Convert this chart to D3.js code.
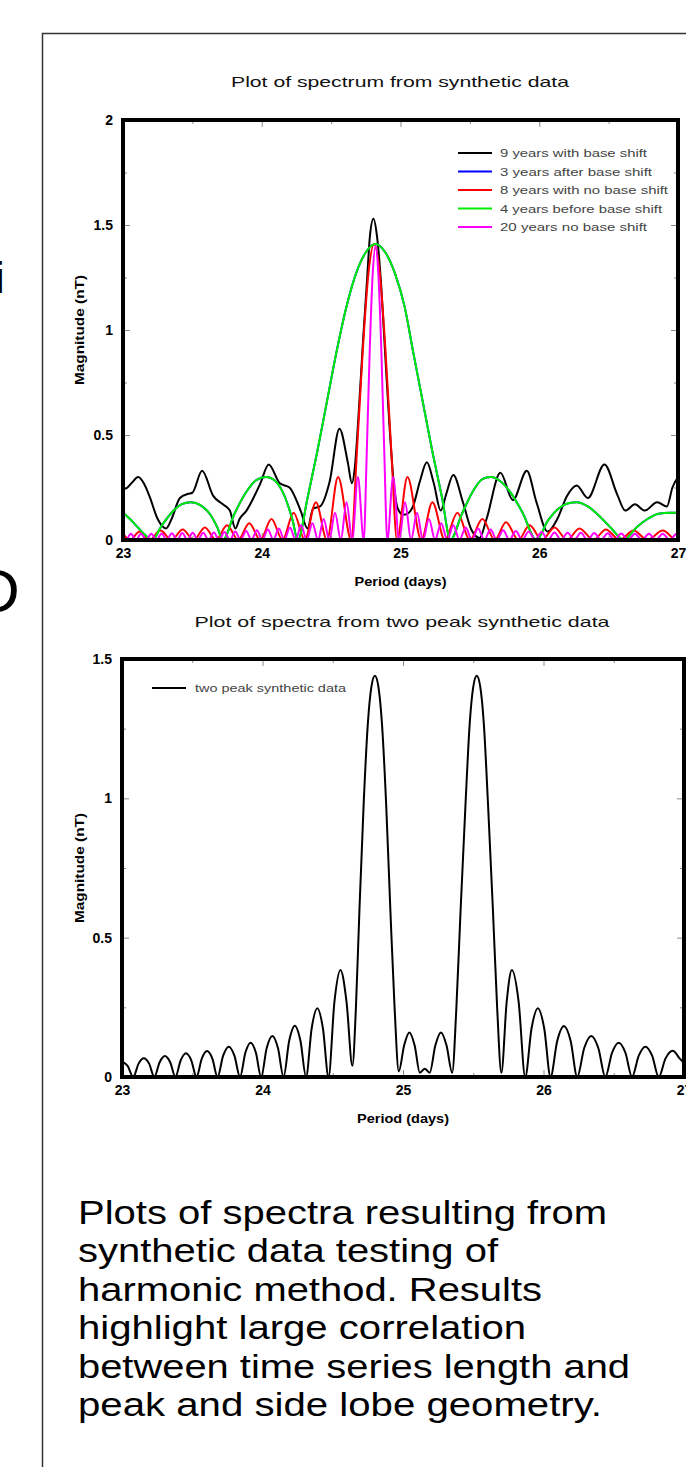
<!DOCTYPE html>
<html>
<head>
<meta charset="utf-8">
<script src="https://cdn.jsdelivr.net/npm/d3@7/dist/d3.min.js"></script>
<style>
body { margin: 0; background: #fff; }
svg { display: block; }
.tick line { stroke: #8a8a8a; stroke-width: 1px; }
.tick text { font: bold 14px "Liberation Sans", Arial, sans-serif; fill: #000; }
.domain { display: none; }
.title { font: 15px "Liberation Sans", Arial, sans-serif; fill: #111; }
.axis-title { font: bold 13px "Liberation Sans", Arial, sans-serif; fill: #000; }
.legend text { font: 11.5px "Liberation Sans", Arial, sans-serif; fill: #444; }
.caption { font: 34px "Liberation Sans", Arial, sans-serif; fill: #000; }
.curve { fill: none; stroke-width: 2px; stroke-linejoin: round; }
</style>
</head>
<body>
<div id="chart"></div>
<script>
// tick values
var periodTicks = [23, 24, 25, 26, 27],
    periodMinor = [23.5, 24.5, 25.5, 26.5],
    topMagTicks = [0, 0.5, 1, 1.5, 2],
    topMagMinor = [0.25, 0.75, 1.25, 1.75],
    botMagTicks = [0, 0.5, 1, 1.5],
    botMagMinor = [0.25, 0.75, 1.25];

// top panel series, [period (days), magnitude (nT)]
var base9 = [[23.00,0.25],[23.02,0.245],[23.06,0.27],[23.11,0.30],[23.15,0.27],[23.19,0.21],[23.25,0.10],[23.31,0.055],[23.35,0.10],[23.41,0.20],[23.47,0.22],[23.50,0.225],[23.57,0.33],[23.65,0.21],[23.72,0.17],[23.77,0.14],[23.81,0.055],[23.84,0.10],[23.89,0.14],[23.99,0.27],[24.05,0.36],[24.13,0.27],[24.20,0.25],[24.28,0.14],[24.33,0.055],[24.37,0.15],[24.42,0.16],[24.49,0.28],[24.56,0.53],[24.62,0.37],[24.65,0.27],[24.67,0.34],[24.70,0.62],[24.73,0.95],[24.76,1.25],[24.78,1.45],[24.805,1.53],[24.83,1.45],[24.86,1.22],[24.89,0.88],[24.92,0.55],[24.95,0.28],[24.98,0.15],[25.02,0.12],[25.06,0.13],[25.09,0.16],[25.14,0.28],[25.19,0.37],[25.24,0.27],[25.29,0.14],[25.33,0.22],[25.38,0.31],[25.45,0.18],[25.51,0.05],[25.57,0.01],[25.62,0.10],[25.72,0.32],[25.81,0.19],[25.91,0.33],[25.98,0.18],[26.06,0.04],[26.13,0.10],[26.20,0.21],[26.27,0.26],[26.35,0.20],[26.47,0.36],[26.56,0.22],[26.62,0.14],[26.69,0.17],[26.76,0.14],[26.85,0.18],[26.92,0.16],[26.96,0.25],[27.00,0.30]];

var before4 = [[23.00,0.13],[23.05,0.10],[23.10,0.065],[23.15,0.03],[23.21,0],[23.28,0.07],[23.35,0.13],[23.42,0.17],[23.49,0.18],[23.56,0.165],[23.63,0.12],[23.68,0.06],[23.72,0],[23.80,0.12],[23.88,0.22],[23.96,0.285],[24.03,0.30],[24.10,0.28],[24.17,0.20],[24.22,0.10],[24.26,0],[24.33,0.20],[24.40,0.42],[24.47,0.66],[24.54,0.90],[24.61,1.11],[24.68,1.27],[24.75,1.37],[24.82,1.41],[24.89,1.37],[24.96,1.27],[25.03,1.11],[25.09,0.90],[25.16,0.66],[25.23,0.42],[25.30,0.20],[25.36,0],[25.44,0.12],[25.52,0.23],[25.59,0.29],[25.65,0.30],[25.72,0.28],[25.80,0.22],[25.88,0.13],[25.98,0],[26.06,0.09],[26.14,0.15],[26.21,0.175],[26.27,0.18],[26.35,0.16],[26.44,0.11],[26.52,0.055],[26.61,0],[26.70,0.06],[26.78,0.10],[26.86,0.125],[26.94,0.13],[27.00,0.13]];

// the 3 year curve lies under the 4 year curve in the picture
var after3 = before4;

var noShift8 = [[23.00,0.03],[23.05,0],[23.12,0.04],[23.19,0],[23.27,0.045],[23.35,0],[23.43,0.05],[23.51,0],[23.59,0.06],[23.67,0],[23.75,0.07],[23.83,0],[23.91,0.08],[23.99,0],[24.07,0.10],[24.15,0],[24.23,0.13],[24.31,0],[24.39,0.18],[24.47,0],[24.55,0.30],[24.645,0],[24.686,0.42],[24.728,0.90],[24.769,1.27],[24.81,1.41],[24.851,1.27],[24.892,0.90],[24.934,0.42],[24.975,0],[25.05,0.30],[25.15,0],[25.23,0.18],[25.32,0],[25.41,0.13],[25.50,0],[25.59,0.10],[25.68,0],[25.76,0.085],[25.85,0],[25.93,0.07],[26.02,0],[26.11,0.06],[26.20,0],[26.29,0.055],[26.39,0],[26.48,0.05],[26.58,0],[26.68,0.045],[26.78,0],[26.89,0.045],[26.99,0],[27.00,0.002]];

var noShift20 = [[23.00,0.028],[23.021,0],[23.057,0.03],[23.094,0],[23.13,0.03],[23.167,0],[23.204,0.03],[23.241,0],[23.278,0.031],[23.315,0],[23.352,0.032],[23.39,0],[23.427,0.033],[23.465,0],[23.502,0.034],[23.54,0],[23.578,0.035],[23.617,0],[23.655,0.036],[23.693,0],[23.731,0.038],[23.77,0],[23.809,0.04],[23.848,0],[23.887,0.043],[23.926,0],[23.965,0.046],[24.004,0],[24.044,0.05],[24.084,0],[24.123,0.055],[24.163,0],[24.203,0.06],[24.244,0],[24.284,0.07],[24.324,0],[24.365,0.08],[24.406,0],[24.446,0.10],[24.487,0],[24.528,0.13],[24.57,0],[24.611,0.18],[24.652,0],[24.693,0.30],[24.735,0],[24.757,0.42],[24.778,0.90],[24.80,1.27],[24.82,1.40],[24.84,1.27],[24.862,0.90],[24.883,0.42],[24.905,0],[24.947,0.30],[24.99,0],[25.033,0.18],[25.076,0],[25.119,0.13],[25.162,0],[25.205,0.10],[25.249,0],[25.293,0.08],[25.337,0],[25.381,0.07],[25.425,0],[25.47,0.06],[25.514,0],[25.559,0.055],[25.604,0],[25.649,0.05],[25.694,0],[25.74,0.046],[25.785,0],[25.831,0.043],[25.877,0],[25.924,0.04],[25.97,0],[26.017,0.038],[26.063,0],[26.11,0.036],[26.157,0],[26.205,0.035],[26.252,0],[26.30,0.034],[26.348,0],[26.397,0.033],[26.445,0],[26.494,0.032],[26.542,0],[26.591,0.031],[26.64,0],[26.69,0.03],[26.74,0],[26.79,0.03],[26.84,0],[26.89,0.03],[26.94,0],[26.99,0.03],[27.00,0.029]];

// bottom panel series
var twoPeak = [[23.00,0.055],[23.04,0.04],[23.08,0],[23.118,0.048],[23.155,0.067],[23.193,0.048],[23.23,0],[23.268,0.053],[23.305,0.075],[23.343,0.053],[23.38,0],[23.418,0.06],[23.455,0.085],[23.493,0.06],[23.53,0],[23.568,0.066],[23.605,0.093],[23.643,0.066],[23.68,0],[23.72,0.077],[23.76,0.109],[23.80,0.077],[23.84,0],[23.878,0.087],[23.915,0.123],[23.953,0.087],[23.99,0],[24.03,0.104],[24.07,0.147],[24.11,0.104],[24.15,0],[24.19,0.13],[24.23,0.184],[24.27,0.13],[24.31,0],[24.35,0.175],[24.39,0.247],[24.43,0.175],[24.47,0],[24.512,0.27],[24.555,0.384],[24.598,0.27],[24.64,0.04],[24.665,0.25],[24.69,0.60],[24.72,0.98],[24.75,1.27],[24.775,1.40],[24.80,1.44],[24.825,1.40],[24.85,1.27],[24.88,0.98],[24.91,0.60],[24.94,0.25],[24.97,0.02],[25.008,0.113],[25.045,0.16],[25.083,0.113],[25.12,0.015],[25.155,0.03],[25.19,0.015],[25.23,0.113],[25.27,0.16],[25.31,0.113],[25.35,0.015],[25.38,0.25],[25.41,0.60],[25.445,0.98],[25.475,1.27],[25.50,1.40],[25.525,1.44],[25.55,1.40],[25.575,1.27],[25.605,0.98],[25.64,0.60],[25.67,0.25],[25.70,0.015],[25.738,0.27],[25.775,0.384],[25.823,0.27],[25.87,0],[25.915,0.175],[25.96,0.247],[26.005,0.175],[26.05,0],[26.098,0.13],[26.145,0.183],[26.193,0.13],[26.24,0],[26.29,0.104],[26.34,0.147],[26.39,0.104],[26.44,0],[26.488,0.087],[26.535,0.123],[26.583,0.087],[26.63,0],[26.678,0.077],[26.725,0.109],[26.773,0.077],[26.82,0],[26.868,0.066],[26.92,0.094],[26.97,0.066],[27.00,0.05]];

var topSeries = [
  {name: "9 years with base shift",   color: "#000000", data: base9},
  {name: "3 years after base shift",  color: "#0000ff", data: after3},
  {name: "8 years with no base shift", color: "#ff0000", data: noShift8},
  {name: "4 years before base shift", color: "#00ee00", data: before4},
  {name: "20 years no base shift",    color: "#ff00ff", data: noShift20}
];
var topLegendLen = [147, 152, 168, 162, 147];

var captionLines = ["Plots of spectra resulting from", "synthetic data testing of",
  "harmonic method. Results", "highlight large correlation",
  "between time series length and", "peak and side lobe geometry."];
var captionLen = [529, 420, 464, 448, 552, 524];

var W = 686, H = 1467;
var svg = d3.select("#chart").append("svg").attr("width", W).attr("height", H);

// slide border and clipped text of the neighbouring slide
svg.append("rect").attr("x", 42.5).attr("y", 33.5).attr("width", 800).attr("height", 1600)
    .attr("fill", "none").attr("stroke", "#333").attr("stroke-width", 1.5);
svg.append("text").attr("x", -25).attr("y", 612)
    .style("font", "62px 'Liberation Sans', Arial, sans-serif").text("D");
svg.append("text").attr("x", -5).attr("y", 293)
    .style("font", "44px 'Liberation Sans', Arial, sans-serif").text("i");

var line = function(x, y) {
  return d3.line().x(function(d) { return x(d[0]); }).y(function(d) { return y(d[1]); })
    .curve(d3.curveMonotoneX);
};

function panel(x, y, magTicks, magMinor, id) {
  var g = svg.append("g");
  var x0 = x.range()[0], x1 = x.range()[1], yb = y.range()[0], yt = y.range()[1];

  g.append("clipPath").attr("id", id).append("rect")
      .attr("x", x0).attr("y", yt).attr("width", x1 - x0).attr("height", yb - yt);

  // minor ticks all round
  g.append("g").attr("transform", "translate(0," + yb + ")")
      .call(d3.axisBottom(x).tickValues(periodMinor).tickSize(-4).tickFormat(""));
  g.append("g").attr("transform", "translate(0," + yt + ")")
      .call(d3.axisTop(x).tickValues(periodMinor).tickSize(-4).tickFormat(""));
  g.append("g").attr("transform", "translate(" + x0 + ",0)")
      .call(d3.axisLeft(y).tickValues(magMinor).tickSize(-4).tickFormat(""));
  g.append("g").attr("transform", "translate(" + x1 + ",0)")
      .call(d3.axisRight(y).tickValues(magMinor).tickSize(-4).tickFormat(""));
  g.append("g").attr("transform", "translate(0," + yt + ")")
      .call(d3.axisTop(x).tickValues(periodTicks).tickSize(-7).tickFormat(""));
  g.append("g").attr("transform", "translate(" + x1 + ",0)")
      .call(d3.axisRight(y).tickValues(magTicks).tickSize(-7).tickFormat(""));

  // labelled axes
  var xa = g.append("g").attr("transform", "translate(0," + yb + ")")
      .call(d3.axisBottom(x).tickValues(periodTicks).tickSize(-7).tickPadding(8)
        .tickFormat(d3.format("d")));
  xa.selectAll("text").attr("dy", "0.71em");
  g.append("g").attr("transform", "translate(" + x0 + ",0)")
      .call(d3.axisLeft(y).tickValues(magTicks).tickSize(-7).tickPadding(10)
        .tickFormat(function(d) { return d3.format("")(d); }));

  g.append("text").attr("class", "axis-title")
      .attr("transform", "translate(84," + (yb + yt) / 2 + ") rotate(-90)")
      .attr("text-anchor", "middle").attr("textLength", 110)
      .attr("lengthAdjust", "spacingAndGlyphs").text("Magnitude (nT)");
  g.append("text").attr("class", "axis-title")
      .attr("x", (x0 + x1) / 2).attr("y", yb + 46)
      .attr("text-anchor", "middle").attr("textLength", 92)
      .attr("lengthAdjust", "spacingAndGlyphs").text("Period (days)");

  var plot = g.append("g").attr("clip-path", "url(#" + id + ")");
  return {g: g, plot: plot, frame: function() {
    g.append("rect").attr("x", x0).attr("y", yt).attr("width", x1 - x0).attr("height", yb - yt)
        .attr("fill", "none").attr("stroke", "#000").attr("stroke-width", 4);
  }};
}

// ---- top panel
var xTop = d3.scaleLinear().domain([23, 27]).range([123, 678]);
var yTop = d3.scaleLinear().domain([0, 2]).range([540, 120]);
var pTop = panel(xTop, yTop, topMagTicks, topMagMinor, "clipTop");

svg.append("text").attr("class", "title").attr("x", 400).attr("y", 87)
    .attr("text-anchor", "middle").attr("textLength", 338)
    .attr("lengthAdjust", "spacingAndGlyphs").text("Plot of spectrum from synthetic data");

pTop.plot.selectAll("path.curve").data(topSeries).enter().append("path")
    .attr("class", "curve")
    .attr("stroke", function(d) { return d.color; })
    .attr("d", function(d) { return line(xTop, yTop)(d.data); });
pTop.frame();

var leg = svg.append("g").attr("class", "legend");
topSeries.forEach(function(s, i) {
  var yy = 157 + i * 18.5;
  leg.append("line").attr("x1", 458).attr("x2", 492).attr("y1", yy - 4).attr("y2", yy - 4)
      .attr("stroke", s.color).attr("stroke-width", 2);
  leg.append("text").attr("x", 500).attr("y", yy).attr("textLength", topLegendLen[i])
      .attr("lengthAdjust", "spacingAndGlyphs").text(s.name);
});

// ---- bottom panel
var xBot = d3.scaleLinear().domain([23, 27]).range([122, 684]);
var yBot = d3.scaleLinear().domain([0, 1.5]).range([1077, 659]);
var pBot = panel(xBot, yBot, botMagTicks, botMagMinor, "clipBot");

svg.append("text").attr("class", "title").attr("x", 402).attr("y", 627)
    .attr("text-anchor", "middle").attr("textLength", 415)
    .attr("lengthAdjust", "spacingAndGlyphs").text("Plot of spectra from two peak synthetic data");

pBot.plot.append("path").datum(twoPeak).attr("class", "curve")
    .attr("stroke", "#000").attr("d", line(xBot, yBot));
pBot.frame();

var leg2 = svg.append("g").attr("class", "legend");
leg2.append("line").attr("x1", 152).attr("x2", 186).attr("y1", 688).attr("y2", 688)
    .attr("stroke", "#000").attr("stroke-width", 2);
leg2.append("text").attr("x", 195).attr("y", 692).attr("textLength", 151)
    .attr("lengthAdjust", "spacingAndGlyphs").text("two peak synthetic data");

// ---- caption
svg.append("g").selectAll("text").data(captionLines).enter().append("text")
    .attr("class", "caption")
    .attr("x", 78)
    .attr("y", function(d, i) { return 1224 + i * 38.4; })
    .attr("textLength", function(d, i) { return captionLen[i]; })
    .attr("lengthAdjust", "spacingAndGlyphs")
    .text(function(d) { return d; });
</script>
</body>
</html>
